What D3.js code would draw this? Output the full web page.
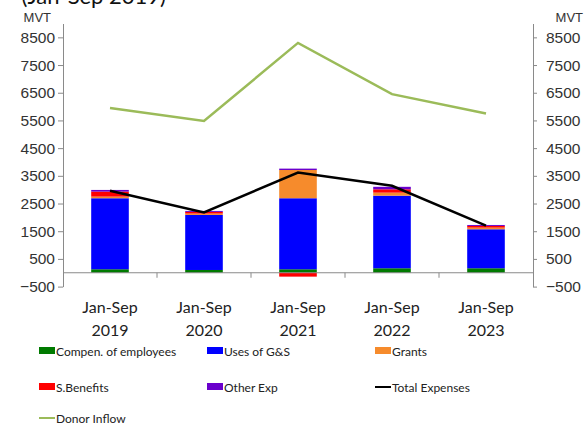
<!DOCTYPE html>
<html><head><meta charset="utf-8">
<script src="https://cdn.jsdelivr.net/npm/d3@7"></script>
<style>
body{margin:0;background:#fff;}
svg{display:block;font-family:Lato,"Noto Sans",sans-serif;}
</style></head>
<body><svg id="c" width="585" height="426"></svg>
<script>
const categories = ["Jan-Sep 2019","Jan-Sep 2020","Jan-Sep 2021","Jan-Sep 2022","Jan-Sep 2023"];
const compen   = [126, 100, 126, 162, 162];
const usesGS   = [2564, 1987, 2564, 2621, 1408];
const grants   = [60, 50, 1020, 110, 60];
const sBenefits= [180, 60, -140, 120, 60];
const otherExp = [60, 35, 50, 90, 35];
const totalExp = [2960, 2180, 3620, 3140, 1700];
const donorInflow = [5950, 5480, 8300, 6450, 5750];
const yTicks = [-500, 500, 1500, 2500, 3500, 4500, 5500, 6500, 7500, 8500];

const seriesDefs = [
  {key:"compen", name:"Compen. of employees", color:"#007a00", vals:compen},
  {key:"gs", name:"Uses of G&S", color:"#0000ff", vals:usesGS},
  {key:"grants", name:"Grants", color:"#f68b2c", vals:grants},
  {key:"sben", name:"S.Benefits", color:"#ff0000", vals:sBenefits},
  {key:"other", name:"Other Exp", color:"#6a00cc", vals:otherExp}
];

const svg = d3.select("#c");
const left = 63, right = 533;
const x = d3.scaleBand().domain(categories).range([left, right]).paddingInner(0.6).paddingOuter(0.3);
const xc = d3.scaleBand().domain(categories).range([left, right]);
const y = d3.scaleLinear().domain([-500, 9000]).range([286.6, 23.5]);

// partial title (clipped at top edge, as in the reference)
svg.append("text").attr("x", 166).attr("y", 4).attr("text-anchor","end")
  .attr("font-size", 22).attr("fill","#111").text("(Jan-Sep 2019)");

// stacked bars
const rows = categories.map((c,i)=>{const o={cat:c}; seriesDefs.forEach(s=>o[s.key]=s.vals[i]); return o;});
const stack = d3.stack().keys(seriesDefs.map(s=>s.key)).offset(d3.stackOffsetDiverging);
const stacked = stack(rows);
svg.append("g").selectAll("g").data(stacked).join("g")
  .attr("fill", (d,i)=>seriesDefs[i].color)
  .selectAll("rect").data(d=>d).join("rect")
  .attr("x", d=>x(d.data.cat)).attr("width", x.bandwidth())
  .attr("y", d=>y(Math.max(d[0],d[1]))).attr("height", d=>Math.abs(y(d[0])-y(d[1])));

// axes
const axisColor = "#8a8a8a";
const fmt = d3.format("d");
const gl = svg.append("g").attr("transform",`translate(${left},0)`)
  .call(d3.axisLeft(y).tickValues(yTicks).tickFormat(fmt).tickSize(5).tickSizeOuter(0).tickPadding(3));
const gr = svg.append("g").attr("transform",`translate(${right},0)`)
  .call(d3.axisRight(y).tickValues(yTicks).tickFormat(fmt).tickSize(4).tickSizeOuter(0).tickPadding(9));
[gl,gr].forEach(g=>{
  g.selectAll("path,line").attr("stroke",axisColor);
  g.selectAll("text").attr("font-size",15.5).attr("fill","#333");
});
gl.append("text").attr("x",-12).attr("y",22).attr("text-anchor","end").attr("font-size",13).attr("fill","#333").text("MVT");
gr.append("text").attr("x",50).attr("y",22).attr("text-anchor","end").attr("font-size",13).attr("fill","#333").text("MVT");

// x axis line at zero with inner band ticks
const gx = svg.append("g");
gx.append("line").attr("x1",left).attr("x2",right).attr("y1",y(0)).attr("y2",y(0)).attr("stroke",axisColor);
gx.selectAll("line.t").data(categories.slice(1)).join("line").attr("class","t")
  .attr("x1",d=>xc(d)).attr("x2",d=>xc(d)).attr("y1",y(0)).attr("y2",y(0)+5).attr("stroke",axisColor);
const lbl = gx.selectAll("text.c").data(categories).join("text").attr("class","c")
  .attr("text-anchor","middle").attr("font-size",16).attr("fill","#222");
lbl.append("tspan").attr("x",d=>xc(d)+xc.bandwidth()/2).attr("y",313).text(d=>d.split(" ")[0]);
lbl.append("tspan").attr("x",d=>xc(d)+xc.bandwidth()/2).attr("y",336).text(d=>d.split(" ")[1]);

// lines
const line = d3.line().x((d,i)=>xc(categories[i])+xc.bandwidth()/2).y(d=>y(d));
svg.append("path").datum(donorInflow).attr("d",line).attr("fill","none").attr("stroke","#9bbb59").attr("stroke-width",2.5);
svg.append("path").datum(totalExp).attr("d",line).attr("fill","none").attr("stroke","#000").attr("stroke-width",2.5);

// legend
const legendItems = seriesDefs.map(s=>({name:s.name,color:s.color,type:"rect"}))
  .concat([{name:"Total Expenses",color:"#000",type:"line"},{name:"Donor Inflow",color:"#9bbb59",type:"line"}]);
const colX = [39, 207, 375], rowY = [351, 387, 418];
const lg = svg.append("g").selectAll("g").data(legendItems).join("g")
  .attr("transform",(d,i)=>`translate(${colX[i%3]},${rowY[Math.floor(i/3)]})`);
lg.filter(d=>d.type==="rect").append("rect").attr("x",0).attr("y",-4).attr("width",16).attr("height",7).attr("fill",d=>d.color);
lg.filter(d=>d.type==="line").append("line").attr("x1",0).attr("x2",16).attr("y1",0).attr("y2",0).attr("stroke",d=>d.color).attr("stroke-width",2);
lg.append("text").attr("x",17).attr("y",4.5).attr("font-size",12).attr("fill","#222").text(d=>d.name);
</script></body></html>
